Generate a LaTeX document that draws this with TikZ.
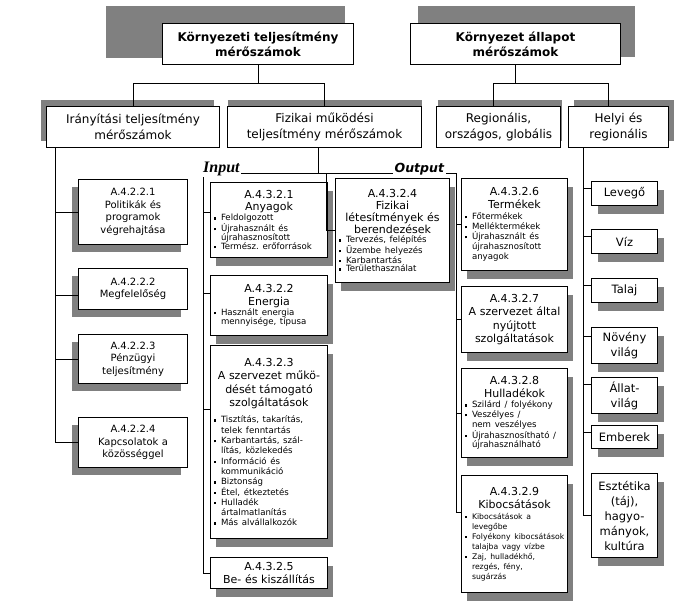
\documentclass[tikz,border=0pt]{standalone}
\usepackage{fontspec}
\setmainfont{DejaVu Sans}
\newfontfamily\serifbi{Liberation Serif}
\usetikzlibrary{calc,shadows}
\frenchspacing

% bullet lines inside the boxes
\newcommand{\bulsize}[2][8.6]{\par\fontsize{#1}{#2}\selectfont\vspace{1pt}}
\newcommand{\itm}[1]{\hbox to\hsize{\hbox to 8.5pt{\hskip1pt\raisebox{.25ex}{\rule{2.3pt}{2.3pt}}\hss}#1\hss}}
\newcommand{\cont}[1]{\hbox to\hsize{\hskip8.5pt #1\hss}}

\tikzset{
  plainbox/.style={draw, fill=white, line width=1pt, anchor=north west, inner sep=3pt,
    execute at begin node={\parindent=0pt\parskip=0pt\centering}},
  grayshadow/.style 2 args={drop shadow={shadow xshift=#1, shadow yshift=#2, fill=gray, opacity=1}},
  topbox/.style={plainbox, minimum height=41pt, font=\bfseries\fontsize{12}{15}\selectfont},
  headbox/.style={plainbox, minimum height=41pt, font=\fontsize{12}{16}\selectfont, grayshadow={#1}{7pt}},
  leftbox/.style={plainbox, text width=103pt, minimum height=#1, font=\fontsize{10}{12.5}\selectfont, grayshadow={-7pt}{-7pt}},
  itembox/.style={plainbox, inner xsep=2pt, text width=113pt, minimum height=#1, font=\fontsize{11}{12.5}\selectfont, grayshadow={5pt}{-8pt}},
  areabox/.style={plainbox, text width=60pt, minimum height=#1, font=\fontsize{11.5}{15}\selectfont, grayshadow={6pt}{-8pt}},
  wire/.style={line width=0.9pt},
  iolabel/.style={anchor=base west, fill=white, inner sep=1.5pt}
}

\begin{document}
\begin{tikzpicture}[x=1pt, y=-1pt]
  \path[use as bounding box, fill=white] (0,0) rectangle (680,610);

  % top level
  \fill[gray] (106,6) rectangle (345,58);
  \fill[gray] (418,6) rectangle (635,57);
  \node[topbox, text width=185pt] (envperf) at (162,23) {Környezeti teljesítmény\\mérőszámok};
  \node[topbox, text width=204pt] (envstate) at (410,23) {Környezet állapot\\mérőszámok};

  \node[headbox=-6pt, text width=167pt] (mgmt) at (46,106) {Irányítási teljesítmény\\mérőszámok};
  \node[headbox=0pt, text width=188pt] (oper) at (227,106) {Fizikai működési\\teljesítmény mérőszámok};
  \node[headbox=1pt, text width=118pt] (regio) at (436,106) {Regionális,\\országos, globális};
  \node[headbox=5pt, text width=94pt] (local) at (568,106) {Helyi és\\regionális};

  % management
  \node[leftbox=65pt] (pol) at (78,179) {A.4.2.2.1\\Politikák és\\programok\\végrehajtása};
  \node[leftbox=41pt] (comp) at (78,268) {A.4.2.2.2\\Megfelelőség};
  \node[leftbox=49pt] (fin) at (78,334) {A.4.2.2.3\\Pénzügyi\\teljesítmény};
  \node[leftbox=50pt] (comm) at (78,417) {A.4.2.2.4\\Kapcsolatok a\\közösséggel};

  % input
  \node[itembox=75pt] (mat) at (210,182) {A.4.3.2.1\\Anyagok\bulsize{9}
    \itm{Feldolgozott}\itm{Újrahasznált és}\cont{újrahasznosított}\itm{Termész. erőforrások}};
  \node[itembox=60pt] (energy) at (210,275) {A.4.3.2.2\\Energia\bulsize{9.3}
    \itm{Használt energia}\cont{mennyisége, típusa}};
  \node[itembox=193pt, font=\fontsize{11}{13.5}\selectfont] (support) at (210,345)
    {A.4.3.2.3\\A szervezet műkö-\\dését támogató\\szolgáltatások\bulsize{10.3}\vspace{5pt}
    \itm{Tisztítás, takarítás,}\cont{telek fenntartás}\itm{Karbantartás, szál-}\cont{lítás, közlekedés}
    \itm{Információ és}\cont{kommunikáció}\itm{Biztonság}\itm{Étel, étkeztetés}
    \itm{Hulladék}\cont{ártalmatlanítás}\itm{Más alvállalkozók}};
  \node[itembox=31pt] (transp) at (210,557) {A.4.3.2.5\\Be- és kiszállítás};

  \node[itembox=104pt, text width=110pt, font=\fontsize{11}{12}\selectfont] (fac) at (335,178)
    {A.4.3.2.4\\Fizikai\\létesítmények és\\berendezések\bulsize{8.6}
    \itm{Tervezés, felépítés}\itm{Üzembe helyezés}\itm{Karbantartás}\itm{Területhasználat}};

  % output
  \node[itembox=92pt, text width=102pt] (prod) at (461,178) {A.4.3.2.6\\Termékek\bulsize{10}
    \itm{Főtermékek}\itm{Melléktermékek}\itm{Újrahasznált és}\cont{újrahasznosított}\cont{anyagok}};
  \node[itembox=66pt, text width=102pt, font=\fontsize{11}{13.5}\selectfont] (serv) at (461,286)
    {A.4.3.2.7\\A szervezet által\\nyújtott\\szolgáltatások};
  \node[itembox=89pt, text width=102pt] (waste) at (461,368) {A.4.3.2.8\\Hulladékok\bulsize{9.7}
    \itm{Szilárd / folyékony}\itm{Veszélyes /}\cont{nem veszélyes}\itm{Újrahasznosítható /}\cont{újrahasználható}};
  \node[itembox=117pt, text width=102pt] (emis) at (461,475) {A.4.3.2.9\\Kibocsátások\bulsize[7.7]{10}
    \itm{Kibocsátások a}\cont{levegőbe}\itm{Folyékony kibocsátások}\cont{talajba vagy vízbe}
    \itm{Zaj, hulladékhő,}\cont{rezgés, fény,}\cont{sugárzás}};

  % local
  \node[areabox=24pt] (air) at (591,181) {Levegő};
  \node[areabox=24pt] (water) at (591,229) {Víz};
  \node[areabox=24pt] (soil) at (591,278) {Talaj};
  \node[areabox=36pt] (flora) at (591,327) {Növény\\világ};
  \node[areabox=36pt] (fauna) at (591,377) {Állat-\\világ};
  \node[areabox=23pt] (people) at (591,425) {Emberek};
  \node[areabox=84pt] (culture) at (591,473) {Esztétika\\(táj),\\hagyo-\\mányok,\\kultúra};

  % connectors
  \draw[wire] (envperf.south) -- ++(0,18) -| (mgmt.north);
  \draw[wire] (envperf.south) -- ++(0,18) -| (oper.north);
  \draw[wire] (envstate.south) -- ++(0,18) -| ($(regio.north)+(-5,0)$);
  \draw[wire] (envstate.south) -- ++(0,18) -| ($(local.north)+(-10,0)$);

  \coordinate (mgmtbus) at ($(mgmt.south west)+(9,0)$);
  \draw[wire] (mgmtbus) |- (pol.west);
  \draw[wire] (mgmtbus) |- ($(comp.north west)!0.65!(comp.south west)$);
  \draw[wire] (mgmtbus) |- (fin.west);
  \draw[wire] (mgmtbus) |- (comm.west);

  \coordinate (inbus) at (203,173);
  \coordinate (midbus) at (326,173);
  \coordinate (outbus) at (456,173);
  \draw[wire] ($(oper.south)+(-6,0)$) |- (inbus);
  \draw[wire] (inbus) -- (outbus);
  \draw[wire] (inbus) |- ($(mat.north west)!0.4!(mat.south west)$);
  \draw[wire] (inbus) |- ($(energy.north west)!0.3!(energy.south west)$);
  \draw[wire] (inbus) |- ($(support.north west)!0.33!(support.south west)$);
  \draw[wire] (inbus) |- (transp.west);
  \draw[wire] (midbus) |- (fac.west);
  \draw[wire] (outbus) |- (prod.west);
  \draw[wire] (outbus) |- (serv.west);
  \draw[wire] (outbus) |- (waste.west);
  \draw[wire] (outbus) |- ($(emis.north west)!0.32!(emis.south west)$);

  \coordinate (localbus) at ($(local.south west)+(15,0)$);
  \draw[wire] (localbus) |- ($(air.north west)!0.3!(air.south west)$);
  \draw[wire] (localbus) |- ($(water.north west)!0.3!(water.south west)$);
  \draw[wire] (localbus) |- ($(soil.north west)!0.3!(soil.south west)$);
  \draw[wire] (localbus) |- ($(flora.north west)!0.25!(flora.south west)$);
  \draw[wire] (localbus) |- ($(fauna.north west)!0.2!(fauna.south west)$);
  \draw[wire] (localbus) |- ($(people.north west)!0.3!(people.south west)$);
  \draw[wire] (localbus) |- (culture.west);

  \node[iolabel, font=\serifbi\bfseries\itshape\fontsize{16}{16}\selectfont] (inlbl) at (201.5,172) {Input};
  \node[iolabel, font=\bfseries\itshape\fontsize{12.5}{14}\selectfont] (outlbl) at (393,172) {Output};
\end{tikzpicture}
\end{document}
